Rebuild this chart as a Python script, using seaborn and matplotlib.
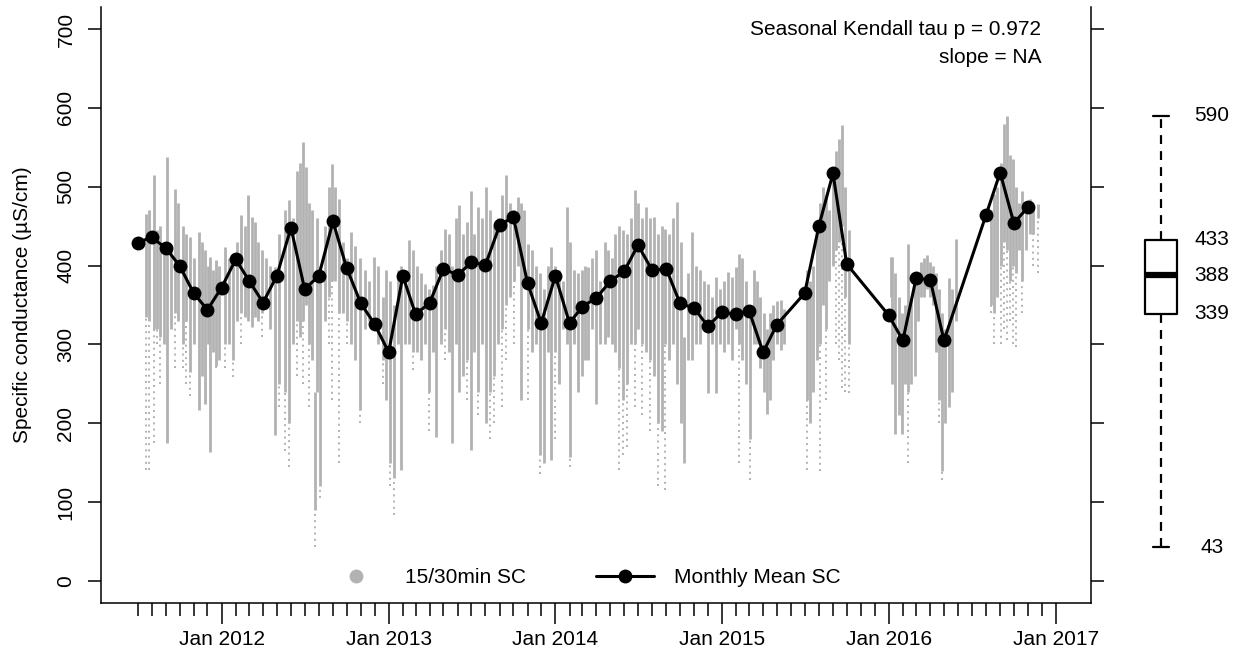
import matplotlib
matplotlib.use("Agg")
import matplotlib.pyplot as plt
import matplotlib.dates as mdates
from matplotlib.lines import Line2D
import numpy as np
import pandas as pd
import seaborn as sns

# ---- Monthly mean specific conductance (plotted on the 1st of each month)
month_dates = [
    "2011-07-01", "2011-08-01", "2011-09-01", "2011-10-01", "2011-11-01", "2011-12-01",
    "2012-01-01", "2012-02-01", "2012-03-01", "2012-04-01", "2012-05-01", "2012-06-01",
    "2012-07-01", "2012-08-01", "2012-09-01", "2012-10-01", "2012-11-01", "2012-12-01",
    "2013-01-01", "2013-02-01", "2013-03-01", "2013-04-01", "2013-05-01", "2013-06-01",
    "2013-07-01", "2013-08-01", "2013-09-01", "2013-10-01", "2013-11-01", "2013-12-01",
    "2014-01-01", "2014-02-01", "2014-03-01", "2014-04-01", "2014-05-01", "2014-06-01",
    "2014-07-01", "2014-08-01", "2014-09-01", "2014-10-01", "2014-11-01", "2014-12-01",
    "2015-01-01", "2015-02-01", "2015-03-01", "2015-04-01", "2015-05-01",
    "2015-07-01", "2015-08-01", "2015-09-01", "2015-10-01",
    "2016-01-01", "2016-02-01", "2016-03-01", "2016-04-01", "2016-05-01",
    "2016-08-01", "2016-09-01", "2016-10-01", "2016-11-01",
]
month_means = [
    429, 436, 422, 400, 365, 344,
    372, 408, 381, 353, 387, 448,
    370, 387, 456, 397, 352, 326,
    290, 387, 338, 353, 396, 388,
    404, 401, 451, 462, 378, 327,
    387, 327, 348, 359, 380, 393,
    426, 394, 396, 352, 346, 323,
    341, 338, 343, 290, 325,
    365, 450, 517, 402,
    337, 305, 384, 382, 305,
    464, 518, 454, 474,
]

# ---- 15/30-minute record: for each streak the upper and lower edge of the
# ---- dense run of readings, and the lowest scattered reading below it
hf_dates = [
    "2011-07-19", "2011-07-26", "2011-08-06", "2011-08-12", "2011-08-19", "2011-08-28",
    "2011-09-03", "2011-09-12", "2011-09-21", "2011-09-27", "2011-10-08", "2011-10-15",
    "2011-10-24", "2011-11-01", "2011-11-12", "2011-11-19", "2011-11-25", "2011-12-02",
    "2011-12-06", "2011-12-13", "2011-12-20", "2011-12-26", "2012-01-08", "2012-01-17",
    "2012-01-26", "2012-02-04", "2012-02-12", "2012-02-21", "2012-02-28", "2012-03-07",
    "2012-03-14", "2012-03-20", "2012-03-29", "2012-04-07", "2012-04-16", "2012-04-27",
    "2012-05-06", "2012-05-19", "2012-05-27", "2012-06-05", "2012-06-14", "2012-06-20",
    "2012-06-27", "2012-07-04", "2012-07-10", "2012-07-17", "2012-07-23", "2012-07-28",
    "2012-08-03", "2012-08-15", "2012-08-23", "2012-08-30", "2012-09-05", "2012-09-14",
    "2012-09-23", "2012-10-01", "2012-10-10", "2012-10-19", "2012-10-30", "2012-11-10",
    "2012-11-19", "2012-11-30", "2012-12-08", "2012-12-19", "2012-12-26", "2013-01-04",
    "2013-01-12", "2013-01-21", "2013-01-28", "2013-02-06", "2013-02-14", "2013-02-23",
    "2013-03-04", "2013-03-13", "2013-03-21", "2013-03-30", "2013-04-08", "2013-04-14",
    "2013-04-25", "2013-05-04", "2013-05-13", "2013-05-19", "2013-05-28", "2013-06-04",
    "2013-06-12", "2013-06-21", "2013-06-30", "2013-07-07", "2013-07-15", "2013-07-24",
    "2013-08-02", "2013-08-11", "2013-08-19", "2013-08-28", "2013-09-06", "2013-09-15",
    "2013-09-23", "2013-10-02", "2013-10-11", "2013-10-17", "2013-10-24", "2013-11-02",
    "2013-11-11", "2013-11-19", "2013-11-28", "2013-12-07", "2013-12-16", "2013-12-22",
    "2013-12-31", "2014-01-09", "2014-01-17", "2014-01-26", "2014-02-02", "2014-02-11",
    "2014-02-19", "2014-02-28", "2014-03-07", "2014-03-13", "2014-03-22", "2014-03-31",
    "2014-04-08", "2014-04-19", "2014-04-26", "2014-05-05", "2014-05-11", "2014-05-20",
    "2014-05-29", "2014-06-07", "2014-06-15", "2014-06-24", "2014-07-01", "2014-07-09",
    "2014-07-18", "2014-07-27", "2014-08-05", "2014-08-13", "2014-08-22", "2014-08-29",
    "2014-09-07", "2014-09-15", "2014-09-24", "2014-10-03", "2014-10-09", "2014-10-18",
    "2014-10-27", "2014-11-05", "2014-11-14", "2014-11-22", "2014-12-01", "2014-12-10",
    "2014-12-19", "2014-12-27", "2015-01-05", "2015-01-14", "2015-01-23", "2015-01-31",
    "2015-02-07", "2015-02-14", "2015-02-22", "2015-03-03", "2015-03-12", "2015-03-18",
    "2015-03-25", "2015-04-03", "2015-04-09", "2015-04-16", "2015-04-22", "2015-05-01",
    "2015-05-10", "2015-05-17", "2015-07-06", "2015-07-13", "2015-07-19", "2015-07-28",
    "2015-08-03", "2015-08-10", "2015-08-16", "2015-08-23", "2015-09-01", "2015-09-07",
    "2015-09-14", "2015-09-20", "2015-09-27", "2015-10-06", "2016-01-05", "2016-01-08",
    "2016-01-14", "2016-01-23", "2016-01-30", "2016-02-06", "2016-02-12", "2016-02-19",
    "2016-02-28", "2016-03-05", "2016-03-12", "2016-03-18", "2016-03-25", "2016-03-31",
    "2016-04-07", "2016-04-13", "2016-04-20", "2016-04-26", "2016-05-03", "2016-05-12",
    "2016-05-18", "2016-05-27", "2016-08-12", "2016-08-18", "2016-08-25", "2016-09-03",
    "2016-09-09", "2016-09-16", "2016-09-22", "2016-09-29", "2016-10-05", "2016-10-12",
    "2016-10-18", "2016-10-27", "2016-11-05", "2016-11-13", "2016-11-22",
]
hf_top = [
    465, 470, 515, 445, 450, 430, 538, 420, 497, 480, 450, 440,
    436, 410, 443, 430, 420, 400, 411, 395, 407, 400, 424, 410,
    400, 430, 464, 450, 489, 462, 455, 430, 420, 410, 400, 398,
    440, 470, 483, 460, 520, 530, 557, 525, 480, 470, 240, 460,
    400, 450, 500, 529, 500, 485, 430, 410, 443, 425, 410, 394,
    380, 411, 400, 360, 394, 380, 350, 395, 400, 390, 432, 420,
    400, 390, 377, 370, 375, 400, 420, 447, 440, 400, 460, 477,
    440, 455, 494, 440, 474, 460, 500, 470, 450, 460, 490, 515,
    480, 470, 487, 480, 470, 428, 420, 400, 390, 370, 400, 424,
    400, 394, 380, 474, 430, 395, 390, 394, 400, 398, 410, 420,
    380, 430, 420, 410, 440, 450, 445, 440, 460, 496, 480, 460,
    474, 460, 462, 440, 450, 447, 440, 460, 481, 430, 310, 390,
    443, 400, 394, 380, 377, 360, 386, 370, 380, 392, 385, 398,
    415, 410, 380, 340, 394, 380, 360, 340, 320, 340, 350, 355,
    356, 345, 394, 380, 400, 450, 480, 500, 490, 470, 510, 545,
    560, 578, 500, 445, 411, 411, 390, 360, 340, 350, 428, 360,
    380, 390, 405, 410, 413, 405, 400, 390, 370, 340, 320, 384,
    370, 434, 470, 491, 500, 530, 580, 590, 540, 535, 500, 480,
    494, 480, 485, 477, 478,
]
hf_low = [
    335, 330, 320, 320, 310, 300, 175, 320, 340, 330, 300, 330,
    265, 300, 217, 260, 225, 300, 164, 290, 272, 280, 300, 300,
    280, 330, 340, 335, 330, 322, 335, 330, 340, 345, 320, 185,
    250, 240, 200, 300, 330, 310, 330, 350, 300, 280, 90, 240,
    120, 330, 360, 380, 380, 340, 340, 330, 300, 280, 217, 320,
    330, 320, 300, 280, 230, 150, 130, 300, 141, 300, 300, 290,
    290, 280, 300, 240, 290, 183, 300, 320, 290, 175, 300, 240,
    260, 280, 166, 290, 240, 300, 200, 240, 260, 300, 320, 350,
    360, 380, 400, 230, 380, 320, 290, 300, 160, 150, 290, 153,
    290, 250, 320, 300, 157, 300, 240, 260, 280, 280, 320, 225,
    300, 300, 310, 300, 290, 270, 230, 250, 300, 300, 320, 300,
    290, 280, 260, 200, 190, 300, 280, 300, 250, 200, 149, 280,
    280, 300, 300, 320, 238, 300, 238, 300, 290, 300, 280, 320,
    300, 280, 250, 180, 300, 300, 270, 240, 212, 230, 280, 300,
    293, 300, 230, 200, 240, 280, 300, 350, 320, 380, 400, 420,
    430, 450, 360, 300, 360, 250, 187, 210, 187, 250, 240, 250,
    260, 330, 360, 360, 370, 360, 350, 290, 230, 140, 200, 221,
    240, 330, 350, 340, 360, 400, 430, 420, 380, 400, 390, 420,
    380, 420, 440, 440, 460,
]
hf_tail = [
    141, 141, 175, 300, 250, 300, 175, 320, 270, 330, 270, 250,
    235, 300, 217, 260, 225, 300, 164, 290, 270, 280, 270, 300,
    259, 330, 300, 335, 330, 322, 335, 330, 310, 345, 320, 185,
    220, 165, 145, 300, 260, 310, 250, 350, 220, 280, 43, 240,
    105, 330, 300, 230, 380, 149, 340, 300, 300, 280, 200, 320,
    330, 320, 300, 250, 230, 120, 84, 300, 141, 300, 300, 267,
    290, 280, 300, 190, 290, 183, 300, 280, 290, 175, 300, 240,
    260, 230, 166, 290, 210, 300, 200, 180, 200, 300, 220, 280,
    360, 300, 400, 230, 380, 230, 290, 300, 136, 150, 290, 153,
    180, 250, 320, 300, 145, 300, 240, 260, 280, 280, 320, 225,
    300, 300, 310, 300, 290, 141, 160, 170, 300, 220, 320, 210,
    290, 190, 260, 120, 190, 115, 280, 300, 250, 200, 149, 280,
    280, 300, 300, 320, 238, 300, 238, 300, 290, 300, 280, 320,
    149, 280, 250, 128, 300, 300, 270, 240, 212, 230, 280, 300,
    293, 300, 141, 200, 240, 280, 140, 350, 230, 380, 400, 300,
    280, 245, 240, 238, 360, 250, 187, 210, 187, 250, 149, 250,
    260, 330, 360, 360, 370, 360, 350, 290, 200, 128, 200, 221,
    240, 330, 340, 300, 360, 300, 320, 305, 330, 300, 297, 420,
    340, 420, 440, 400, 390,
]

# ---- Summary of all readings (box on the right)
box_stats = {"whislo": 43, "q1": 339, "med": 388, "q3": 433, "whishi": 590}
kendall_p = 0.972
kendall_slope = "NA"

y_ticks = [0, 100, 200, 300, 400, 500, 600, 700]
year_ticks = ["2012-01-01", "2013-01-01", "2014-01-01", "2015-01-01", "2016-01-01", "2017-01-01"]

# ---------------------------------------------------------------- styling
sns.set_theme(style="ticks")
plt.rcParams["font.family"] = ["Liberation Sans", "DejaVu Sans"]
plt.rcParams["axes.linewidth"] = 1.1
plt.rcParams["text.color"] = "black"
plt.rcParams["axes.labelcolor"] = "black"

GREY = "#B2B2B2"
FS = 15

W, H = 1240, 656
fig = plt.figure(figsize=(W / 100, H / 100), dpi=100)
fig.patch.set_facecolor("white")

ax = fig.add_axes([101 / W, 1 - 603 / H, 990 / W, 596 / H])
ax.set_facecolor("white")

# high-frequency readings
hf = pd.DataFrame({
    "date": pd.to_datetime(hf_dates),
    "top": hf_top, "low": hf_low, "tail": hf_tail,
})
ax.vlines(hf["date"], hf["low"], hf["top"], color=GREY, lw=2.0, zorder=1)
tails = hf[hf["tail"] < hf["low"]]
ax.vlines(tails["date"], tails["tail"], tails["low"], color=GREY, lw=1.4,
          linestyles=(0, (1, 2.2)), zorder=1)

# monthly means
monthly = pd.DataFrame({"date": pd.to_datetime(month_dates), "sc": month_means})
sns.lineplot(data=monthly, x="date", y="sc", ax=ax, color="black", lw=2.2,
             marker="o", markersize=10, markeredgecolor="black",
             markeredgewidth=0, legend=False, sort=False, zorder=3)

# axes limits and ticks
ax.set_xlim(pd.Timestamp("2011-04-12"), pd.Timestamp("2017-03-19"))
ax.set_ylim(-28, 728)
ax.set_yticks(y_ticks)
ax.set_yticklabels([str(v) for v in y_ticks], rotation=90, va="center")

ax.set_xticks(pd.to_datetime(year_ticks))
ax.xaxis.set_major_formatter(mdates.DateFormatter("%b %Y"))
months = pd.date_range("2011-07-01", "2016-12-01", freq="MS")
ax.set_xticks(months[months.month != 1], minor=True)

ax.tick_params(axis="x", which="major", length=15, width=1.1, pad=4.5,
               labelsize=FS, color="black", labelcolor="black")
ax.tick_params(axis="x", which="minor", length=9.4, width=1.1, color="black")
ax.tick_params(axis="y", which="major", length=9.4, width=1.1, pad=9,
               labelsize=FS, right=True, labelright=False,
               color="black", labelcolor="black")

for side in ["left", "right", "bottom"]:
    ax.spines[side].set_color("black")
ax.spines["top"].set_visible(False)

ax.set_xlabel("")
ax.set_ylabel("Specific conductance (µS/cm)", fontsize=FS, color="black")
ax.yaxis.set_label_coords(-0.07, 0.5)

# test result
ax.text(0.9495, 0.963, f"Seasonal Kendall tau p = {kendall_p:.3f}",
        transform=ax.transAxes, ha="right", va="center", fontsize=FS)
ax.text(0.9495, 0.916, f"slope = {kendall_slope}",
        transform=ax.transAxes, ha="right", va="center", fontsize=FS)

# legend
h_pts = Line2D([], [], ls="none", marker="o", ms=10, color=GREY, mew=0)
h_mon = Line2D([], [], color="black", lw=2.2, marker="o", ms=10, mew=0)
ax.legend([h_pts, h_mon], ["15/30min SC", "Monthly Mean SC"],
          loc="center", bbox_to_anchor=(0.488, 0.042), ncol=2, frameon=False,
          fontsize=FS, handlelength=2.79, handletextpad=0.96,
          columnspacing=3.36, numpoints=1)

# box of all readings
bax = fig.add_axes([1121 / W, 1 - 603 / H, 119 / W, 596 / H])
bax.set_ylim(ax.get_ylim())
bax.set_xlim(0, 119)
bax.axis("off")
stats = [dict(box_stats, fliers=[])]
bax.bxp(stats, positions=[40], widths=32, capwidths=16, showfliers=False,
        boxprops=dict(color="black", lw=1.6),
        medianprops=dict(color="black", lw=4.5, solid_capstyle="butt"),
        whiskerprops=dict(color="black", lw=1.6, linestyle=(0, (4, 3.2))),
        capprops=dict(color="black", lw=1.6))
for key in ["whishi", "q3", "med", "q1", "whislo"]:
    bax.text(91, box_stats[key], f"{box_stats[key]}", ha="center", va="center",
             fontsize=FS, clip_on=False)

fig.savefig("out.png", dpi=100, facecolor="white")
